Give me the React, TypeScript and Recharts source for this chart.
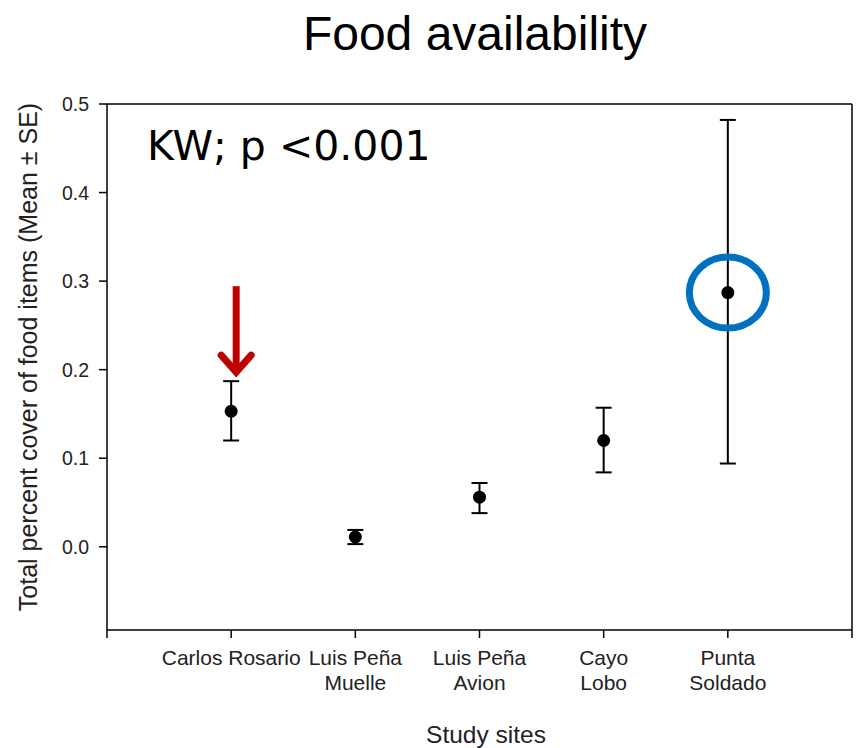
import {
  ScatterChart,
  Scatter,
  XAxis,
  YAxis,
  ErrorBar,
  ReferenceLine,
  ReferenceDot,
} from "recharts";

const sites = ["Carlos Rosario", "Luis Peña\nMuelle", "Luis Peña\nAvion", "Cayo\nLobo", "Punta\nSoldado"];
const means = [0.153, 0.011, 0.056, 0.12, 0.287];
const lowers = [0.12, 0.003, 0.038, 0.084, 0.094];
const uppers = [0.187, 0.019, 0.072, 0.157, 0.482];
const yTicks = [0, 0.1, 0.2, 0.3, 0.4, 0.5];
const xTicks = [0, 1, 2, 3, 4, 5, 6];

// site 1 is flagged by the arrow, site 5 is circled
const arrowSite = 1;
const circledSite = 5;

const data = sites.map((s, i) => ({
  x: i + 1,
  mean: means[i],
  err: [means[i] - lowers[i], uppers[i] - means[i]],
}));

const FONT = "'Liberation Sans', Arial, sans-serif";

function SiteTick(props: any) {
  const { x, y, payload } = props;
  const label = sites[payload.value - 1];
  if (!label) return <g />;
  const lines = label.split("\n");
  return (
    <text x={x} y={y + 25} textAnchor="middle" fontSize={21} fill="#222" fontFamily={FONT}>
      {lines.map((l, k) => (
        <tspan key={k} x={x} dy={k === 0 ? 0 : 25}>
          {l}
        </tspan>
      ))}
    </text>
  );
}

function ValueTick(props: any) {
  const { x, y, payload } = props;
  return (
    <text x={x} y={y} dy={7} textAnchor="end" fontSize={19.5} fill="#222" fontFamily={FONT}>
      {payload.value.toFixed(1)}
    </text>
  );
}

const Dot = (p: any) => <circle cx={p.cx} cy={p.cy} r={6.5} fill="#000" />;

const Arrow = (p: any) => (
  <g>
    <line x1={p.cx + 5} y1={p.cy - 95} x2={p.cx + 5} y2={p.cy - 12} stroke="#C00000" strokeWidth={7} />
    <polyline
      points={`${p.cx - 10},${p.cy - 26} ${p.cx + 5},${p.cy - 9} ${p.cx + 20},${p.cy - 26}`}
      fill="none"
      stroke="#C00000"
      strokeWidth={7}
      strokeLinecap="round"
      strokeLinejoin="miter"
    />
  </g>
);

const Ring = (p: any) => (
  <ellipse cx={p.cx} cy={p.cy} rx={38.5} ry={35.5} fill="none" stroke="#0070C0" strokeWidth={7} />
);

export default function App() {
  return (
    <div style={{ position: "relative", width: 857, height: 748, background: "#fff" }}>
      <style>{"body{margin:0}"}</style>
      <ScatterChart width={857} height={748} margin={{ top: 104, right: 5, bottom: 0, left: 0 }}>
        <XAxis
          type="number"
          dataKey="x"
          domain={[0, 6]}
          ticks={xTicks}
          interval={0}
          height={118}
          tickSize={8}
          tick={<SiteTick />}
          stroke="#000"
          strokeWidth={1.5}
        />
        <YAxis
          type="number"
          dataKey="mean"
          domain={[-0.094, 0.5]}
          ticks={yTicks}
          allowDataOverflow
          width={107}
          tickSize={8}
          tickMargin={10}
          tick={<ValueTick />}
          stroke="#000"
          strokeWidth={1.5}
        />
        <ReferenceLine y={0.5} stroke="#000" strokeWidth={1.5} />
        <ReferenceLine x={6} stroke="#000" strokeWidth={1.5} />
        <Scatter data={data} shape={Dot} isAnimationActive={false}>
          <ErrorBar dataKey="err" direction="y" width={8} stroke="#000" strokeWidth={2} />
        </Scatter>
        <ReferenceDot x={arrowSite} y={uppers[arrowSite - 1]} shape={Arrow} />
        <ReferenceDot x={circledSite} y={means[circledSite - 1]} shape={Ring} />
      </ScatterChart>
      <svg
        width={857}
        height={748}
        style={{ position: "absolute", left: 0, top: 0, pointerEvents: "none" }}
      >
        <text x={475} y={50} textAnchor="middle" fontSize={48} fill="#000" fontFamily={FONT}>
          Food availability
        </text>
        <text x={147} y={160} fontSize={41} fill="#000" fontFamily="'DejaVu Sans', sans-serif">
          KW; p {"<"}0.001
        </text>
        <text
          x={28}
          y={357}
          transform="rotate(-90 28 357)"
          textAnchor="middle"
          dominantBaseline="central"
          fontSize={25}
          fill="#222"
          fontFamily={FONT}
        >
          Total percent cover of food items (Mean ± SE)
        </text>
        <text x={486} y={743} textAnchor="middle" fontSize={24.5} fill="#222" fontFamily={FONT}>
          Study sites
        </text>
      </svg>
    </div>
  );
}
